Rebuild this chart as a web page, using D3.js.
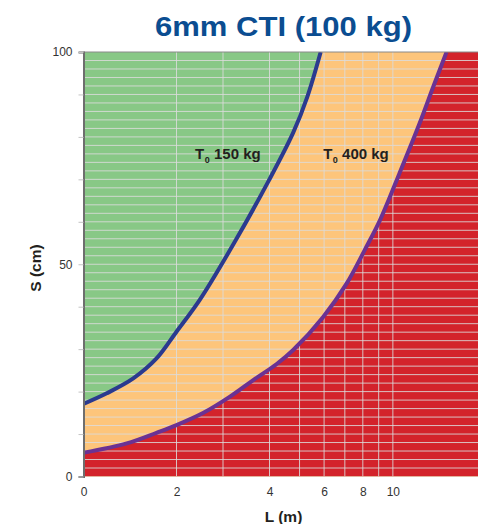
<!DOCTYPE html>
<html>
<head>
<meta charset="utf-8">
<script src="https://cdn.jsdelivr.net/npm/d3@7"></script>
<style>
  body { margin: 0; background: #fff; }
  svg { display: block; font-family: "Liberation Sans", Arial, sans-serif; }
</style>
</head>
<body>
<svg id="chart" width="478" height="524"></svg>
<script>
// T0 150 kg boundary (green / orange)
const L150 = [0, 0.5, 1.07, 1.57, 2.0, 2.5, 3.26, 3.97, 4.77, 5.30, 5.85];
const S150 = [17.1, 19.6, 23.1, 27.8, 34.1, 41.6, 55.4, 69.4, 81.0, 89.5, 100];

// T0 400 kg boundary (orange / red)
const L400 = [0, 0.93, 1.57, 2.0, 2.58, 3.15, 3.65, 4.22, 4.77, 5.96, 7.1, 8.12, 9.09, 10.5, 12.2, 13.5, 14.9];
const S400 = [5.6, 7.8, 10.3, 12.1, 15.0, 18.8, 22.7, 26.5, 29.8, 37.6, 45.5, 53.4, 60.4, 71.4, 83.2, 91.8, 100];

const xTicks = [0, 2, 4, 6, 8, 10, 20];
const xGrid = [2, 3, 4, 5, 6, 7, 8, 9, 10];
const yTicks = [0, 10, 20, 30, 40, 50, 60, 70, 80, 90, 100];
const yLabels = [0, 50, 100];
const labelText = ["150 kg", "400 kg"];
const labelL = [2.4, 5.96];
const labelS = [74.7, 74.7];

const svg = d3.select('#chart');

const pLeft = 83.5, pTop = 52, pBottom = 476.5;
const xBreak = 269.5;           // where the linear part hands over to log
const decade = 310;             // pixels per decade on the log part

// x axis: linear from 0 to 4, logarithmic from 4 to 20
const xLin = d3.scaleLinear().domain([0, 4]).range([pLeft, xBreak]);
const xLog = d3.scaleLog().domain([4, 20]).range([xBreak, xBreak + decade * Math.log10(5)]);
const x = v => v <= 4 ? xLin(v) : xLog(v);
const pRight = x(20);

const y = d3.scaleLinear().domain([0, 100]).range([pBottom, pTop]);

// polylinear copy just for drawing the axis
const xAxisScale = d3.scaleLinear().domain(xTicks).range(xTicks.map(x));

svg.append('defs').append('clipPath').attr('id', 'plot')
  .append('rect').attr('x', pLeft).attr('y', pTop)
  .attr('width', pRight - pLeft).attr('height', pBottom - pTop);

const plot = svg.append('g').attr('clip-path', 'url(#plot)');

const line = d3.line()
  .x(d => x(d[0]))
  .y(d => y(d[1]))
  .curve(d3.curveCatmullRom.alpha(0.5));

const pts150 = L150.map((l, i) => [l, S150[i]]);
const pts400 = L400.map((l, i) => [l, S400[i]]);

// closes a boundary curve down to the bottom right corner
function below(pts) {
  return line(pts) +
    `L${x(20)},${y(100)}L${x(20)},${y(0)}L${x(0)},${y(0)}Z`;
}

plot.append('rect')
  .attr('x', pLeft).attr('y', pTop)
  .attr('width', pRight - pLeft).attr('height', pBottom - pTop)
  .attr('fill', '#88c886');

plot.append('path').attr('d', below(pts150)).attr('fill', '#fdc57b');
plot.append('path').attr('d', below(pts400)).attr('fill', '#d3232b');

// grid
plot.selectAll('.hgrid')
  .data(d3.range(2, 100, 2))
  .enter().append('line')
  .attr('x1', pLeft).attr('x2', pRight)
  .attr('y1', d => y(d)).attr('y2', d => y(d))
  .attr('stroke', '#dcdcdc').attr('stroke-opacity', 0.85).attr('stroke-width', 1);

plot.selectAll('.vgrid')
  .data(xGrid)
  .enter().append('line')
  .attr('x1', d => x(d)).attr('x2', d => x(d))
  .attr('y1', pTop).attr('y2', pBottom)
  .attr('stroke', '#dcdcdc').attr('stroke-opacity', 0.85).attr('stroke-width', 1);

// boundary curves
plot.append('path').attr('d', line(pts150))
  .attr('fill', 'none').attr('stroke', '#2b3a8f').attr('stroke-width', 4);
plot.append('path').attr('d', line(pts400))
  .attr('fill', 'none').attr('stroke', '#6a3293').attr('stroke-width', 4);

// top border
svg.append('line')
  .attr('x1', pLeft).attr('x2', pRight).attr('y1', pTop).attr('y2', pTop)
  .attr('stroke', '#8a8a8a').attr('stroke-width', 1);

// y axis
const yAxis = svg.append('g')
  .attr('transform', `translate(${pLeft},0)`)
  .call(d3.axisLeft(y).tickValues(yTicks).tickSize(5).tickPadding(6)
    .tickFormat(d => yLabels.includes(d) ? d : ''));
yAxis.select('.domain').attr('stroke', '#6e6e6e').attr('stroke-width', 2);
yAxis.selectAll('.tick line').attr('stroke', '#c4c4c4');
yAxis.selectAll('.tick text').attr('font-size', 12).attr('fill', '#333')
  .attr('font-family', '"Liberation Sans", Arial, sans-serif');

// x axis
const xAxis = svg.append('g')
  .attr('transform', `translate(0,${pBottom})`)
  .call(d3.axisBottom(xAxisScale).tickValues(xTicks).tickSize(0).tickPadding(11));
xAxis.select('.domain').remove();
xAxis.selectAll('.tick text').attr('font-size', 12).attr('fill', '#333')
  .attr('font-family', '"Liberation Sans", Arial, sans-serif');

// curve labels
labelText.forEach((t, i) => {
  const txt = svg.append('text')
    .attr('x', x(labelL[i])).attr('y', y(labelS[i]))
    .attr('font-size', 15).attr('font-weight', 'bold').attr('fill', '#231f20');
  txt.append('tspan').text('T');
  txt.append('tspan').text('0').attr('font-size', 9).attr('dy', 4).attr('dx', 0.5);
  txt.append('tspan').text(' ' + t).attr('dy', -4);
});

// title
svg.append('text')
  .attr('x', 283.5).attr('y', 35.7)
  .attr('text-anchor', 'middle')
  .attr('font-size', 27).attr('font-weight', 'bold')
  .attr('fill', '#0b4d91')
  .attr('textLength', 257).attr('lengthAdjust', 'spacingAndGlyphs')
  .text('6mm CTI (100 kg)');

// axis titles
svg.append('text')
  .attr('x', 283.5).attr('y', 521.5)
  .attr('text-anchor', 'middle')
  .attr('font-size', 15.5).attr('font-weight', 'bold').attr('fill', '#231f20')
  .text('L (m)');

svg.append('text')
  .attr('transform', 'translate(41,268) rotate(-90)')
  .attr('text-anchor', 'middle')
  .attr('font-size', 15.5).attr('font-weight', 'bold').attr('fill', '#231f20')
  .text('S (cm)');
</script>
</body>
</html>
